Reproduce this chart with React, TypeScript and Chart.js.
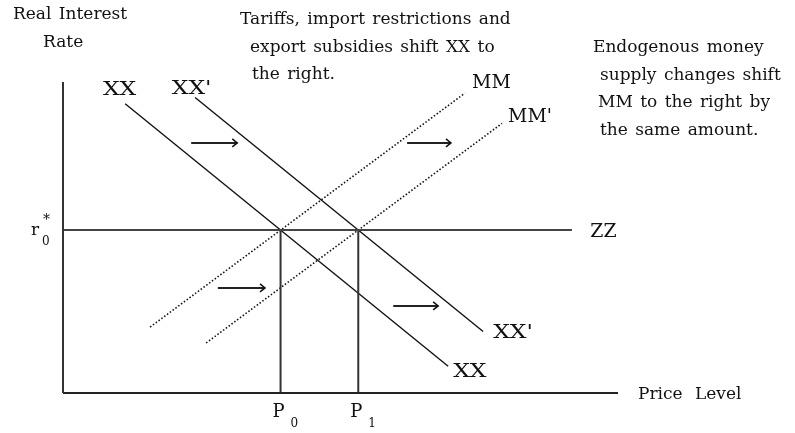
import React, { useEffect, useRef } from "react";
import { Chart, registerables } from "chart.js";

Chart.register(...registerables);

const W = 795;
const H = 433;

// Data space: price level 0–100 (x), real interest rate 0–100 (y)
const XX_X = [11.2, 69.4];
const XX_Y = [93.0, 8.6];
const XX2_X = [23.8, 75.7];
const XX2_Y = [95.0, 19.8];
const MM_X = [15.7, 72.4];
const MM_Y = [21.2, 96.4];
const MM2_X = [25.8, 79.1];
const MM2_Y = [16.1, 86.7];
const ZZ_X = [0, 91.7];
const R_STAR = 52.4;
const P_VALUES = [39.2, 53.2];
const P_SUBS = ["0", "1"];
const ARROW_X0 = [23.1, 62.0, 27.9, 59.5];
const ARROW_X1 = [31.4, 69.9, 36.4, 67.6];
const ARROW_Y = [80.4, 80.4, 33.8, 28.0];
const CURVE_LABELS = ["XX", "XX'", "XX", "XX'", "MM", "MM'", "ZZ"];
const CURVE_LABEL_X = [7.2, 19.6, 70.3, 77.5, 73.7, 80.2, 95.0];
const CURVE_LABEL_Y = [97.4, 97.7, 6.8, 19.3, 99.7, 88.7, 51.8];

const Y_TITLE = ["Real Interest", "Rate"];
const X_TITLE = "Price Level";
const NOTE_TOP = ["Tariffs, import restrictions and", "export subsidies shift XX to", "the right."];
const NOTE_RIGHT = ["Endogenous money", "supply changes shift", "MM to the right by", "the same amount."];

const FONT = '"DejaVu Serif", "Liberation Serif", serif';
const INK = "#111";

const pts = (xs: number[], ys: number[]) => xs.map((x, i) => ({ x, y: ys[i] }));

const annotate = {
  id: "annotate",
  afterDatasetsDraw(chart: any) {
    const { ctx, scales } = chart;
    const xs = scales.x;
    const ys = scales.y;
    const px = (v: number) => xs.getPixelForValue(v);
    const py = (v: number) => ys.getPixelForValue(v);
    ctx.save();
    ctx.fillStyle = INK;
    ctx.strokeStyle = INK;
    ctx.textBaseline = "middle";
    ctx.textAlign = "left";

    // arrowheads
    ctx.lineWidth = 1.5;
    ARROW_X1.forEach((x1, i) => {
      const tx = px(x1);
      const ty = py(ARROW_Y[i]);
      ctx.beginPath();
      ctx.moveTo(tx - 5, ty - 4);
      ctx.lineTo(tx, ty);
      ctx.lineTo(tx - 5, ty + 4);
      ctx.stroke();
    });

    // curve labels
    ctx.font = `18px ${FONT}`;
    CURVE_LABELS.forEach((t, i) => {
      const sx = t.startsWith("XX") ? 1.3 : 1.05;
      ctx.save();
      ctx.translate(px(CURVE_LABEL_X[i]), py(CURVE_LABEL_Y[i]));
      ctx.scale(sx, 1);
      ctx.fillText(t, 0, 0);
      ctx.restore();
    });

    // P labels
    P_VALUES.forEach((p, i) => {
      const x = px(p);
      ctx.font = `18px ${FONT}`;
      ctx.fillText("P", x - 8, 412);
      ctx.font = `12px ${FONT}`;
      ctx.fillText(P_SUBS[i], x + 10, 424);
    });

    // r0*
    const ry = py(R_STAR);
    ctx.font = `17px ${FONT}`;
    ctx.fillText("r", 31, ry + 1);
    ctx.font = `14px ${FONT}`;
    ctx.fillText("*", 43, ry - 10);
    ctx.font = `12px ${FONT}`;
    ctx.fillText("0", 42, ry + 12);

    // titles
    ctx.font = `17px ${FONT}`;
    ctx.wordSpacing = "2px";
    ctx.fillText(Y_TITLE[0], 13, 15);
    ctx.fillText(Y_TITLE[1], 43, 43);
    ctx.wordSpacing = "7px";
    ctx.fillText(X_TITLE, 638, 395);
    ctx.wordSpacing = "2px";

    // notes
    const topX = [240, 250, 252];
    NOTE_TOP.forEach((t, i) => ctx.fillText(t, topX[i], 20 + i * 27.5));
    const rightX = [593, 600, 598, 600];
    NOTE_RIGHT.forEach((t, i) => ctx.fillText(t, rightX[i], 48 + i * 27.5));

    ctx.restore();
  },
};

export default function App() {
  const ref = useRef<HTMLCanvasElement | null>(null);
  useEffect(() => {
    if (!ref.current) return;
    const solid = (data: any[], width: number, color = INK) => ({
      data,
      showLine: true,
      borderColor: color,
      borderWidth: width,
      pointRadius: 0,
      fill: false,
      clip: false,
    });
    const dotted = (data: any[]) => ({
      ...solid(data, 1.6),
      borderDash: [1.5, 2],
    });
    const datasets: any[] = [
      solid([{ x: 0, y: 0 }, { x: 0, y: 100 }], 2, "#333"),
      solid([{ x: 0, y: 0 }, { x: 100, y: 0 }], 2, "#222"),
      solid(pts(ZZ_X, [R_STAR, R_STAR]), 2, "#444"),
      ...P_VALUES.map((p) => solid([{ x: p, y: 0 }, { x: p, y: R_STAR }], 2, "#333")),
      solid(pts(XX_X, XX_Y), 1.4),
      solid(pts(XX2_X, XX2_Y), 1.4),
      dotted(pts(MM_X, MM_Y)),
      dotted(pts(MM2_X, MM2_Y)),
      ...ARROW_X0.map((x0, i) => solid([{ x: x0, y: ARROW_Y[i] }, { x: ARROW_X1[i], y: ARROW_Y[i] }], 2, "#222")),
    ];
    const chart = new Chart(ref.current, {
      type: "scatter",
      data: { datasets },
      options: {
        animation: false,
        responsive: false,
        devicePixelRatio: 1,
        layout: { padding: { left: 63, right: 177, top: 82, bottom: 40 } },
        scales: {
          x: { type: "linear", min: 0, max: 100, display: false },
          y: { type: "linear", min: 0, max: 100, display: false },
        },
        plugins: { legend: { display: false }, tooltip: { enabled: false } },
      },
      plugins: [annotate],
    });
    return () => chart.destroy();
  }, []);
  return (
    <div style={{ position: "fixed", left: 0, top: 0, width: W, height: H, background: "#fff" }}>
      <canvas ref={ref} width={W} height={H} style={{ width: W, height: H, display: "block" }} />
    </div>
  );
}
